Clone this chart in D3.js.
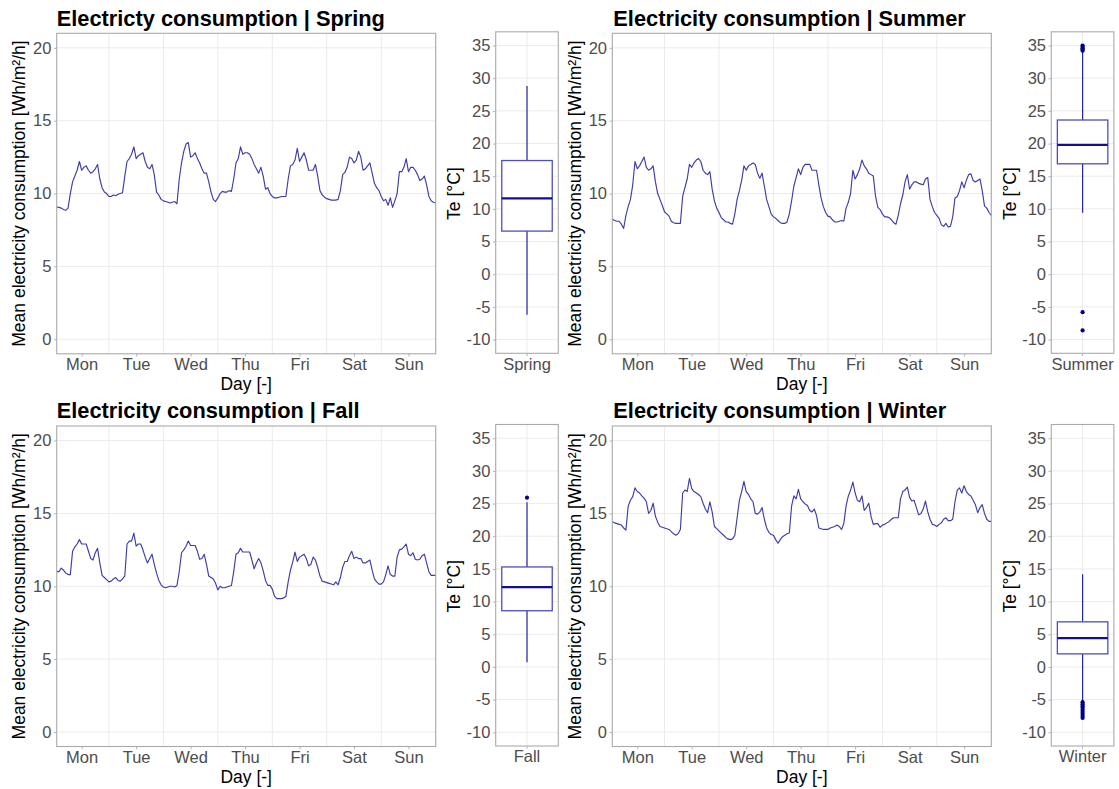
<!DOCTYPE html>
<html lang="en">
<head>
<meta charset="UTF-8">
<title>Electricity consumption by season</title>
<script src="https://d3js.org/d3.v7.min.js"></script>
<style>
  body { margin: 0; background: #fff; font-family: "Liberation Sans", Arial, sans-serif; }
  .grid line { stroke: #ebebeb; stroke-width: 1; }
  .axis text { font-size: 16.5px; fill: #4d4d4d; font-family: "Liberation Sans", Arial, sans-serif; }
  .axis line { stroke: #b3b3b3; }
  .axis path { display: none; }
  .axis-title { font-size: 17.5px; fill: #000; }
  .title { font-size: 21.8px; font-weight: bold; fill: #000; }
  .frame { fill: none; stroke: #aaaaaa; stroke-width: 1.1; }
</style>
</head>
<body>
<script>
// weekday labels, placed at noon of each day (hour index 1..168)
const days = ["Mon", "Tue", "Wed", "Thu", "Fri", "Sat", "Sun"];
const dayTicks = [12, 36, 60, 84, 108, 132, 156];
const dayBreaks = [24, 48, 72, 96, 120, 144, 168];
const loadTicks = [0, 5, 10, 15, 20];
const teTicks = [-10, -5, 0, 5, 10, 15, 20, 25, 30, 35];

// mean hourly electricity consumption [Wh/m2/h], Monday 01h .. Sunday 24h
const springLoad = [
  9.08, 9.05, 9.0, 8.9, 8.85, 9.0, 10.0, 10.8, 11.2, 11.6, 12.2, 11.6, 11.8, 11.9, 11.6, 11.4, 11.5, 11.7, 12.0, 11.0, 10.4, 10.1, 10.0, 9.8,
  9.8, 9.9, 9.85, 9.95, 10.0, 10.05, 11.2, 12.2, 12.4, 12.7, 13.2, 12.4, 12.6, 12.7, 12.8, 12.2, 11.8, 11.7, 12.0, 11.3, 10.1, 9.9, 9.6, 9.5,
  9.45, 9.4, 9.35, 9.4, 9.45, 9.3, 11.0, 12.1, 12.9, 13.4, 13.5, 12.5, 12.6, 12.8, 12.4, 12.1, 11.7, 11.4, 11.4, 10.8, 10.1, 9.6, 9.45, 9.7,
  10.0, 10.15, 10.1, 10.1, 10.2, 10.15, 11.0, 12.1, 12.4, 13.2, 12.7, 12.8, 12.8, 12.7, 12.4, 12.0, 11.7, 11.4, 11.8, 11.2, 10.3, 10.4, 10.0, 9.8,
  9.7, 9.7, 9.75, 9.8, 9.8, 9.8, 11.0, 11.9, 12.0, 12.3, 13.1, 12.2, 12.5, 12.8, 12.3, 11.6, 11.6, 11.6, 12.0, 11.2, 10.2, 9.9, 9.75, 9.65,
  9.6, 9.55, 9.55, 9.55, 9.6, 10.2, 11.3, 11.45, 11.8, 12.5, 12.4, 12.1, 12.3, 12.9, 12.5, 11.6, 11.7, 11.9, 12.1, 11.4, 10.7, 10.4, 10.2, 9.8,
  9.5, 9.6, 9.2, 9.7, 9.05, 9.5, 10.0, 11.5, 11.5, 11.8, 12.4, 11.5, 11.8, 11.8, 11.6, 11.3, 10.9, 11.0, 11.2, 10.6, 9.8, 9.5, 9.4, 9.35
];
const summerLoad = [
  8.25, 8.15, 8.1, 8.1, 7.9, 7.6, 8.5, 9.1, 9.6, 10.6, 12.2, 11.7, 11.9, 12.2, 12.5, 11.8, 11.6, 11.7, 11.9, 10.8, 10.0, 9.6, 9.2, 8.75,
  8.6, 8.45, 8.1, 8.0, 7.95, 7.95, 7.95, 9.8, 10.4, 11.0, 12.0, 11.8, 12.1, 12.3, 12.4, 12.2, 11.6, 11.4, 11.3, 11.5, 10.3, 9.5, 9.0, 8.7,
  8.35, 8.2, 8.05, 8.05, 7.95, 7.9, 8.6, 9.6, 10.2, 10.9, 11.9, 11.6, 11.9, 12.0, 12.1, 12.0, 11.4, 11.05, 11.4, 10.5, 9.6, 9.1, 8.6, 8.4,
  8.3, 8.15, 8.0, 7.95, 7.95, 8.05, 8.6, 9.5, 10.5, 11.1, 11.7, 11.3, 11.8, 12.0, 12.0, 12.0, 11.6, 11.6, 11.6, 10.6, 9.7, 9.1, 8.7, 8.45,
  8.4, 8.2, 8.05, 8.05, 8.1, 8.15, 8.1, 9.0, 9.4, 10.0, 11.6, 11.0, 11.3, 11.7, 12.3, 11.9, 11.7, 11.4, 11.3, 11.2, 9.8, 9.05, 8.9, 8.6,
  8.4, 8.4, 8.35, 8.2, 8.0, 7.9, 8.5, 9.3, 9.9, 10.8, 11.3, 10.3, 10.6, 10.8, 10.8, 10.7, 10.65, 10.6, 11.0, 11.1, 9.6, 9.1, 8.7, 8.5,
  8.3, 7.85, 7.75, 7.95, 7.7, 7.75, 8.4, 9.7, 9.8, 10.2, 10.8, 10.4, 10.9, 11.3, 11.35, 10.9, 10.8, 10.9, 11.0, 10.2, 9.15, 9.0, 8.7, 8.5
];
const fallLoad = [
  11.0, 11.0, 11.25, 11.1, 10.9, 10.8, 10.8, 12.4, 12.7, 12.9, 13.2, 12.9, 12.9, 12.9, 12.4, 11.9, 11.8, 12.3, 12.6, 11.6, 10.75, 10.6, 10.45, 10.3,
  10.35, 10.5, 10.6, 10.4, 10.35, 10.5, 10.7, 12.9, 13.1, 13.1, 13.65, 12.75, 12.9, 12.9, 12.5, 12.0, 11.6, 11.9, 12.2, 11.5, 10.9, 10.4, 10.1, 9.95,
  9.9, 9.95, 10.0, 10.0, 9.95, 10.05, 11.0, 12.3, 12.5, 12.75, 13.1, 12.8, 12.8, 12.8, 12.4, 11.85, 11.9, 12.2, 11.5, 10.7, 10.6, 10.5, 10.2, 9.75,
  10.0, 9.9, 9.9, 9.95, 10.0, 10.05, 11.0, 12.2, 12.3, 12.6, 12.35, 12.35, 12.35, 12.35, 11.8, 11.2, 11.6, 11.9, 11.6, 11.05, 10.4, 10.06, 10.06, 9.8,
  9.3, 9.15, 9.15, 9.15, 9.2, 9.3, 10.3, 11.1, 11.65, 12.35, 11.7, 12.0, 12.1, 12.2, 11.9, 11.4, 11.5, 12.0, 11.8, 11.3, 10.7, 10.35, 10.3, 10.25,
  10.2, 10.15, 10.1, 10.3, 10.1, 10.6, 11.3, 11.7, 11.7, 12.1, 12.4, 11.9, 12.0, 11.9, 11.9, 11.6, 11.6, 11.7, 11.8, 11.1, 10.5, 10.3, 10.15, 10.15,
  10.3, 10.8, 11.4, 10.8, 10.7, 10.7, 12.0, 12.5, 12.55, 12.7, 12.9, 12.2, 12.1, 12.3, 11.85, 11.8, 11.85, 12.1, 12.2, 11.6, 11.0, 10.75, 10.75, 10.75
];
const winterLoad = [
  14.45, 14.35, 14.3, 14.25, 14.2, 14.0, 13.85, 15.5, 15.9, 16.15, 16.75, 16.5, 16.4, 16.2, 16.05, 15.8, 15.0, 15.2, 15.7, 14.8, 14.4, 14.1, 14.05, 14.0,
  13.95, 13.9, 13.75, 13.6, 13.5, 13.6, 13.9, 16.4, 16.6, 16.5, 17.4, 16.7, 16.5, 16.4, 16.3, 16.15, 15.7, 15.3, 15.05, 15.8, 15.1, 14.1, 13.95, 13.8,
  13.65, 13.5, 13.35, 13.25, 13.2, 13.25, 13.5, 14.7, 15.9, 16.5, 17.2, 16.5, 16.3, 16.0, 15.8, 15.0, 14.95, 15.1, 15.4, 14.6, 14.0, 13.7, 13.55, 13.5,
  13.2, 12.95, 13.2, 13.4, 13.5, 13.6, 13.65, 15.5, 16.2, 16.0, 16.65, 16.0, 15.8, 15.65, 15.55, 15.2, 15.1, 15.3, 14.85, 14.0, 13.95, 13.9, 13.9, 13.9,
  14.0, 14.05, 14.1, 14.2, 14.1, 13.9, 14.3, 15.5, 16.2, 16.6, 17.15, 16.4, 15.9, 15.8, 16.2, 15.2, 15.4, 15.7, 14.8, 14.25, 14.3, 14.3, 14.05, 14.2,
  14.25, 14.35, 14.45, 14.6, 14.7, 14.7, 14.7, 16.0, 16.5, 16.6, 16.8, 16.1, 15.85, 15.9, 15.4, 14.9, 15.0, 15.3, 15.85, 15.1, 14.6, 14.25, 14.2, 14.1,
  14.25, 14.35, 14.6, 14.7, 14.5, 14.5, 14.6, 15.8, 16.6, 16.75, 16.4, 16.9, 16.5, 16.3, 16.2, 15.9, 15.6, 15.05, 15.4, 15.6, 15.0, 14.6, 14.45, 14.45
];

// outdoor temperature Te [°C] box statistics per season
const seasons = ["Spring", "Summer", "Fall", "Winter"];
const teLower = [-6.2, 9.4, 0.7, -5.2];
const teQ1 = [6.6, 16.9, 8.6, 2.0];
const teMedian = [11.6, 19.8, 12.2, 4.4];
const teQ3 = [17.4, 23.6, 15.3, 6.9];
const teUpper = [28.8, 34.0, 25.2, 14.2];
const teOutliers = [
  [],
  [34.2, 34.4, 34.6, 34.8, 35.0, -5.8, -8.6],
  [25.9],
  [-5.4, -5.7, -6.0, -6.3, -6.6, -6.9, -7.2, -7.5, -7.8]
];
const titles = [
  "Electricty consumption | Spring",
  "Electricity consumption | Summer",
  "Electricity consumption | Fall",
  "Electricity consumption | Winter"
];
const loads = [springLoad, summerLoad, fallLoad, winterLoad];

// layout
const W = 1119, H = 789;
const lineW = 379, lineH = 320.5;
const boxOffset = 439, boxW = 62.6, boxH = 321.5;
const lefts = [56.7, 612.3, 56.7, 612.3];
const tops = [33.3, 33.3, 426, 426];

const svg = d3.select("body").append("svg")
  .attr("width", W)
  .attr("height", H)
  .style("display", "block");

const hourIdx = d3.range(1, 169);
const plain = d => String(d); // hyphen minus, like the original

seasons.forEach((season, k) => {
  const L = lefts[k], T = tops[k];
  const g = svg.append("g");

  // ---- line panel ----
  const x = d3.scaleLinear().domain([1, 168]).range([L, L + lineW]);
  const y = d3.scaleLinear().domain([-1, 21]).range([T + lineH, T]);

  const grid = g.append("g").attr("class", "grid");
  grid.selectAll(".hy").data(loadTicks).join("line")
    .attr("x1", L).attr("x2", L + lineW)
    .attr("y1", d => y(d)).attr("y2", d => y(d));
  grid.selectAll(".vx").data(dayBreaks).join("line")
    .attr("x1", d => x(d)).attr("x2", d => x(d))
    .attr("y1", T).attr("y2", T + lineH);

  g.append("path")
    .datum(loads[k])
    .attr("fill", "none")
    .attr("stroke", "#1a1a9c")
    .attr("stroke-opacity", 0.85)
    .attr("stroke-width", 1.15)
    .attr("stroke-linejoin", "round")
    .attr("d", d3.line().x((d, i) => x(hourIdx[i])).y(d => y(d)));

  g.append("rect").attr("class", "frame")
    .attr("x", L).attr("y", T).attr("width", lineW).attr("height", lineH);

  g.append("g").attr("class", "axis")
    .attr("transform", `translate(${L},0)`)
    .call(d3.axisLeft(y).tickValues(loadTicks).tickFormat(plain).tickSize(2.75).tickPadding(2.5));

  g.append("g").attr("class", "axis")
    .attr("transform", `translate(0,${T + lineH})`)
    .call(d3.axisBottom(x).tickValues(dayTicks).tickFormat((d, i) => days[i])
      .tickSize(2.75).tickPadding(2));

  g.append("text").attr("class", "title")
    .attr("x", L + (k % 2 ? 1 : 0)).attr("y", T - 7.8)
    .text(titles[k]);

  g.append("text").attr("class", "axis-title")
    .attr("text-anchor", "middle")
    .attr("x", L + lineW / 2).attr("y", T + lineH + 36.5)
    .text("Day [-]");

  g.append("text").attr("class", "axis-title")
    .attr("text-anchor", "middle")
    .attr("transform", `translate(${L - 31.5},${T + lineH / 2}) rotate(-90)`)
    .text("Mean electricity consumption [Wh/m²/h]");

  // ---- boxplot panel ----
  const BL = L + boxOffset, BT = T - 1.5;
  const xb = d3.scaleBand().domain([season]).range([BL, BL + boxW]).paddingInner(0).paddingOuter(0.12);
  const yb = d3.scaleLinear().domain([-12.1, 37.1]).range([BT + boxH, BT]);
  const cx = xb(season) + xb.bandwidth() / 2;
  const bw = xb.bandwidth();

  const bgrid = g.append("g").attr("class", "grid");
  bgrid.selectAll(".hy").data(teTicks).join("line")
    .attr("x1", BL).attr("x2", BL + boxW)
    .attr("y1", d => yb(d)).attr("y2", d => yb(d));
  bgrid.append("line")
    .attr("x1", cx).attr("x2", cx).attr("y1", BT).attr("y2", BT + boxH);

  const box = g.append("g");
  box.append("line")
    .attr("x1", cx).attr("x2", cx)
    .attr("y1", yb(teQ3[k])).attr("y2", yb(teUpper[k]))
    .attr("stroke", "#2323a6").attr("stroke-width", 1.2);
  box.append("line")
    .attr("x1", cx).attr("x2", cx)
    .attr("y1", yb(teQ1[k])).attr("y2", yb(teLower[k]))
    .attr("stroke", "#2323a6").attr("stroke-width", 1.2);
  box.append("rect")
    .attr("x", cx - bw / 2).attr("width", bw)
    .attr("y", yb(teQ3[k])).attr("height", yb(teQ1[k]) - yb(teQ3[k]))
    .attr("fill", "#fff").attr("stroke", "#4d4dc4").attr("stroke-width", 1.3);
  box.append("line")
    .attr("x1", cx - bw / 2).attr("x2", cx + bw / 2)
    .attr("y1", yb(teMedian[k])).attr("y2", yb(teMedian[k]))
    .attr("stroke", "#10108f").attr("stroke-width", 2.2);
  box.selectAll(".out").data(teOutliers[k]).join("circle")
    .attr("cx", cx).attr("cy", d => yb(d)).attr("r", 2.1)
    .attr("fill", "#00008b");

  g.append("rect").attr("class", "frame")
    .attr("x", BL).attr("y", BT).attr("width", boxW).attr("height", boxH);

  g.append("g").attr("class", "axis")
    .attr("transform", `translate(${BL},0)`)
    .call(d3.axisLeft(yb).tickValues(teTicks).tickFormat(plain).tickSize(2.75).tickPadding(2.5));

  g.append("g").attr("class", "axis")
    .attr("transform", `translate(0,${BT + boxH})`)
    .call(d3.axisBottom(xb).tickSize(2.75).tickPadding(2));

  g.append("text").attr("class", "axis-title")
    .attr("text-anchor", "middle")
    .attr("transform", `translate(${BL - 35.5},${T + lineH / 2}) rotate(-90)`)
    .text("Te [°C]");
});
</script>
</body>
</html>
